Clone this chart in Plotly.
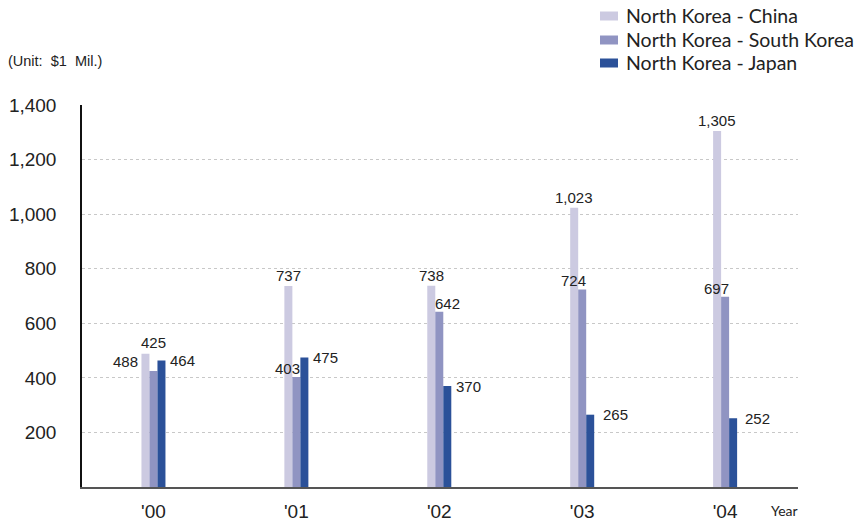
import plotly.graph_objects as go

# ---- data -------------------------------------------------------------
years = ["'00", "'01", "'02", "'03", "'04"]
china = [488, 737, 738, 1023, 1305]
south_korea = [425, 403, 642, 724, 697]
japan = [464, 475, 370, 265, 252]
series_names = ["North Korea - China", "North Korea - South Korea", "North Korea - Japan"]
y_ticks = [200, 400, 600, 800, 1000, 1200, 1400]

# ---- styling ----------------------------------------------------------
colors = ["#CCCAE1", "#9094C2", "#2B5199"]
W, H = 857, 522
ML, MR, MT, MB = 82, 59, 105, 35
PW, PH = W - ML - MR, H - MT - MB
BAR_W = 0.056
offsets = [-1.5 * BAR_W, -0.5 * BAR_W, 0.5 * BAR_W]

NUM_FONT = "Liberation Sans, Arial, sans-serif"
TXT_FONT = "Lato, Noto Sans, sans-serif"
INK = "#222222"

# where each value label sits relative to its bar: (mode, extra shift)
placements = [
    [("left", 3), ("top", 0), ("top", 0), ("top", 0), ("top", 0)],
    [("top", 18), ("over_left", 0), ("over_right", 0), ("over_left", 0), ("over_left", 0)],
    [("right", 3), ("right", 3), ("right", 3), ("right", 7), ("right", 6)],
]

# legend rows: vertical centre (px from top), swatch box and text start
LEG_ROWS = [16, 40, 63]
LEG_SW_X0, LEG_SW_X1, LEG_SW_H = 600, 618, 9
LEG_TXT_X = 624


def px_x(px):
    return (px - ML) / PW


def px_y(py):
    return (MT + PH - py) / PH


fig = go.Figure()
all_series = [china, south_korea, japan]
for name, vals, col, off in zip(series_names, all_series, colors, offsets):
    fig.add_trace(go.Bar(
        name=name,
        x=list(range(len(years))),
        y=vals,
        offset=off,
        width=BAR_W,
        marker=dict(color=col, line=dict(width=0)),
        hoverinfo="skip",
        showlegend=False,
    ))

annotations = []
for vals, off, places in zip(all_series, offsets, placements):
    for i, (v, (mode, extra)) in enumerate(zip(vals, places)):
        left = i + off
        right = i + off + BAR_W
        a = dict(text=f"{v:,}", y=v, xref="x", yref="y", showarrow=False,
                 font=dict(family=NUM_FONT, size=15, color=INK))
        if mode == "top":
            a.update(x=(left + right) / 2, xanchor="center", yanchor="bottom", yshift=extra)
        elif mode == "left":
            a.update(x=left, xanchor="right", yanchor="top", yshift=extra, xshift=-1)
        elif mode == "over_left":
            a.update(x=right, xanchor="right", yanchor="bottom", yshift=-2, xshift=2)
        elif mode == "over_right":
            a.update(x=left, xanchor="left", yanchor="bottom", yshift=-2, xshift=-2)
        elif mode == "right":
            a.update(x=right, xanchor="left", yanchor="middle", xshift=extra)
        annotations.append(a)

annotations.append(dict(text="(Unit:  $1  Mil.)", xref="paper", yref="paper",
                        x=px_x(6), y=px_y(61), xanchor="left", yanchor="middle",
                        showarrow=False,
                        font=dict(family=NUM_FONT, size=14.5, color=INK)))
annotations.append(dict(text="Year", xref="paper", yref="paper",
                        x=px_x(769), y=px_y(510), xanchor="left", yanchor="middle",
                        showarrow=False,
                        font=dict(family=TXT_FONT, size=14, color=INK)))

# legend drawn as swatches plus labels in the top-right corner
shapes = []
for name, col, yc in zip(series_names, colors, LEG_ROWS):
    shapes.append(dict(type="rect", xref="paper", yref="paper",
                       x0=px_x(LEG_SW_X0), x1=px_x(LEG_SW_X1),
                       y0=px_y(yc + LEG_SW_H / 2), y1=px_y(yc - LEG_SW_H / 2),
                       fillcolor=col, line=dict(width=0)))
    annotations.append(dict(text=name, xref="paper", yref="paper",
                            x=px_x(LEG_TXT_X), y=px_y(yc), xanchor="left", yanchor="middle",
                            showarrow=False,
                            font=dict(family=TXT_FONT, size=19.5, color=INK)))

fig.update_layout(
    width=W, height=H,
    margin=dict(l=ML, r=MR, t=MT, b=MB, pad=0, autoexpand=False),
    paper_bgcolor="white", plot_bgcolor="white",
    barmode="overlay",
    showlegend=False,
    annotations=annotations,
    shapes=shapes,
    xaxis=dict(range=[-0.5, 4.51], tickvals=list(range(len(years))), ticktext=years,
               showgrid=False, zeroline=False, showline=True, linecolor="#555555",
               linewidth=2, ticks="", ticklabelstandoff=6, automargin=False,
               tickfont=dict(family=NUM_FONT, size=19, color=INK)),
    yaxis=dict(range=[0, 1400], tickvals=y_ticks,
               ticktext=[f"{t:,}" for t in y_ticks],
               showgrid=True, gridcolor="#C8C8C8", gridwidth=1, griddash="3px,3px",
               zeroline=False, showline=True, linecolor="#111111", linewidth=1.5,
               ticks="", ticklabelstandoff=20, automargin=False,
               tickfont=dict(family=NUM_FONT, size=19, color=INK)),
)

fig.write_html("out.html")
